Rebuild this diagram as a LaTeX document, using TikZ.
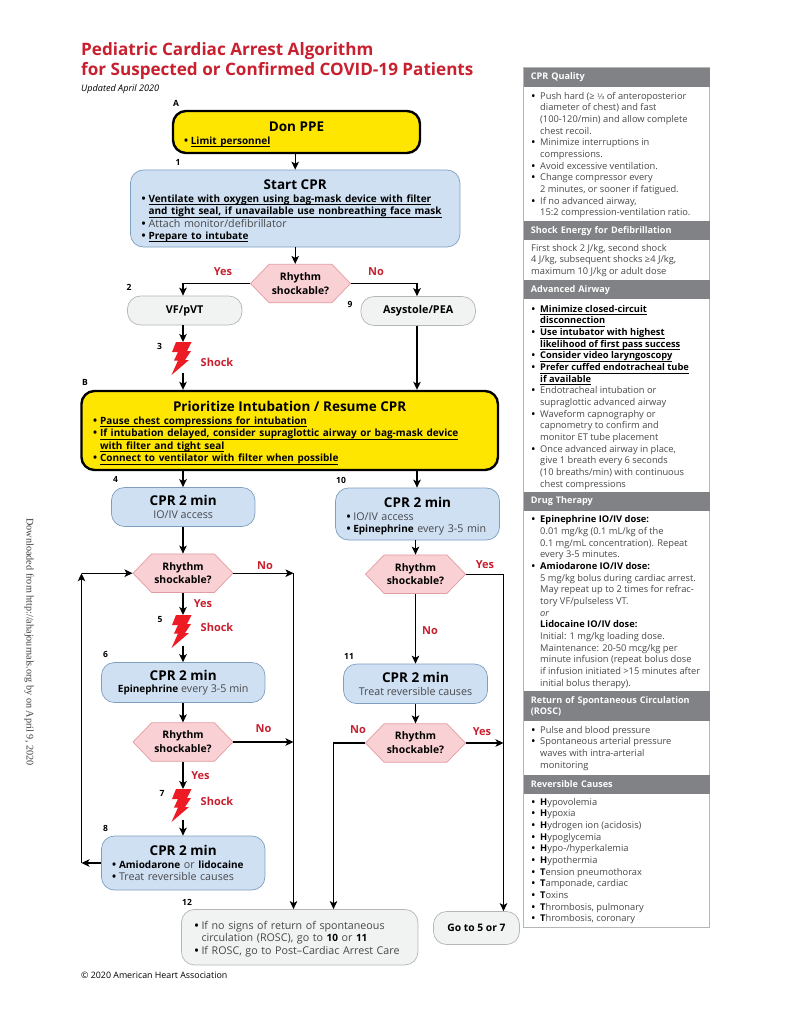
\documentclass[tikz,border=0pt]{standalone}
\usepackage{fontspec}
\setmainfont{Open Sans}
\newfontfamily\serifdl{Liberation Serif}
\newfontfamily\symfam{DejaVu Sans}
\usetikzlibrary{arrows.meta,positioning,shapes.symbols}
\definecolor{boxblue}{HTML}{CFE0F3}
\definecolor{edgeblue}{HTML}{7E9FC0}
\definecolor{boxyellow}{HTML}{FFE600}
\definecolor{boxpink}{HTML}{F9D0D3}
\definecolor{edgepink}{HTML}{E29CA3}
\definecolor{boxgrey}{HTML}{F1F2F2}
\definecolor{edgegrey}{HTML}{B4B6B7}
\definecolor{headgrey}{HTML}{808285}
\definecolor{titlered}{HTML}{C8202F}
\definecolor{boltred}{HTML}{ED1C24}
\definecolor{bodygrey}{HTML}{48484A}
\newcommand{\bl}{\makebox[\bw][l]{\textcolor{black}{\bfseries\textbullet}}}
\newcommand{\ind}{\hspace*{\bw}}
\newcommand{\bk}[1]{\textcolor{black}{\bsz\bfseries #1}}
\newcommand{\ub}[1]{\setbox0\hbox{\bk{#1}}\rlap{\textcolor{black}{\rule[-2.6pt]{\wd0}{0.6pt}}}\box0}
\newcommand{\ttl}[2][15]{\makebox[\linewidth][c]{\rule{0pt}{#1pt}\fontsize{13.5}{16}\selectfont\textcolor{black}{\bfseries #2}}}
\newcommand{\ctl}[1]{\fontsize{13.5}{16}\selectfont\textcolor{black}{\bfseries #1}}
\newcommand{\shockbolt}[3]{%
\path[fill=boltred] (#2,#3) ++(5,0) -- ++(15.5,0) -- ++(-4.5,9) -- ++(4,0) -- ++(-6,9) -- ++(4,0)
 -- ++(-17.5,15) -- ++(6.5,-14.5) -- ++(-4,0) -- ++(4,-8.5) -- ++(-6,0) -- cycle;
\coordinate (#1t) at (#2,#3);
\coordinate (#1b) at ([yshift=-30.5pt]#2,#3);}
\tikzset{
 main/.style={rounded corners=13pt,align=left,inner sep=0pt,text=bodygrey,
  font=\def\bw{6.8pt}\def\bsz{\fontsize{10}{12.4}\selectfont}\fontsize{10.7}{12.4}\selectfont},
 cprbox/.style={main,draw=edgeblue,fill=boxblue,line width=0.7pt},
 ppebox/.style={main,draw=black,fill=boxyellow,line width=2.4pt},
 endbox/.style={main,draw=edgegrey,fill=boxgrey,line width=0.7pt},
 rhythm/.style={shape=signal,signal to=east and west,signal pointer angle=92,draw=edgepink,fill=boxpink,
  line width=0.7pt,inner sep=0pt,minimum width=100pt,minimum height=38.5pt,align=center,
  font=\fontsize{10.4}{13.8}\selectfont\bfseries},
 flow/.style={-{Stealth[length=8pt,width=7.5pt,inset=2pt]},line width=1.2pt},
 numlbl/.style={font=\fontsize{8.5}{9}\selectfont\bfseries,inner sep=0pt},
 redlbl/.style={font=\fontsize{11}{10}\selectfont\bfseries,text=titlered,inner sep=0pt},
 sidehead/.style={fill=headgrey,anchor=north west,minimum width=185.5pt,inner sep=0pt,text=white,align=left,
  text width=172pt,inner xsep=7pt,font=\fontsize{9.1}{11.65}\selectfont\bfseries},
 sidebody/.style={anchor=north west,inner sep=0pt,align=left,text=bodygrey,
  font=\def\bw{8.5pt}\def\bsz{}\fontsize{9.3}{11.65}\selectfont},
 capbox/.style={font=\fontsize{10.8}{12}\selectfont\bfseries,text=black},
}
\begin{document}
\begin{tikzpicture}[x=1pt,y=-1pt]
\useasboundingbox[fill=white] (0,0) rectangle (791,1024);
\coordinate (lft) at (183,0);
\coordinate (mid) at (417,0);
% heading
\node[anchor=base west,inner sep=0pt,text=titlered,font=\fontsize{17.1}{20}\selectfont\bfseries] (title1) at (81,55.5) {Pediatric Cardiac Arrest Algorithm};
\node[anchor=base west,inner sep=0pt,text=titlered,font=\fontsize{17.1}{20}\selectfont\bfseries] (title2) at (81,75.5) {for Suspected or Confirmed COVID-19 Patients};
\node[anchor=base west,inner sep=0pt,font=\fontsize{9.1}{9}\selectfont\itshape] (updated) at (81,92) {Updated April 2020};
\node[rotate=-90,inner sep=0pt,text=black!75,font=\fontsize{10.2}{12}\selectfont\serifdl] (dl) at (29,642) {Downloaded from http://ahajournals.org by on April 9, 2020};
\node[anchor=base west,inner sep=0pt,font=\fontsize{8.85}{9}\selectfont] (copy) at (81,978) {© 2020 American Heart Association};
% boxes
\node[ppebox,minimum width=247pt,minimum height=42pt,text width=225pt] (ppe) at (296.5,132) {\ttl{Don PPE}\\\bl\ub{Limit personnel}};
\node[cprbox,minimum width=329.5pt,minimum height=77pt,text width=307pt] (startcpr) at (295.2,208.5) {\ttl{Start CPR}\\
\bl\ub{Ventilate with oxygen using bag-mask device with filter}\\
\ind\ub{and tight seal, if unavailable use nonbreathing face mask}\\
\bl Attach monitor/defibrillator\\
\bl\ub{Prepare to intubate}};
\node[rhythm] (r0) at (300.5,283.5) {Rhythm\\shockable?};
\node[endbox,minimum width=114.5pt,minimum height=29pt,capbox] (vf) at (184.7,310.5) {VF/pVT};
\node[endbox,minimum width=114.5pt,minimum height=29pt,capbox] (asy) at (418.2,311) {Asystole/PEA};
\node[ppebox,minimum width=416.5pt,minimum height=79pt,text width=393pt] (prio) at (289.7,430.5) {\ttl{Prioritize Intubation / Resume CPR}\\
\bl\ub{Pause chest compressions for intubation}\\
\bl\ub{If intubation delayed, consider supraglottic airway or bag-mask device}\\
\ind\ub{with filter and tight seal}\\
\bl\ub{Connect to ventilator with filter when possible}};
\node[cprbox,minimum width=143.5pt,minimum height=39pt,align=center] (cpra) at (183.2,507) {\ctl{CPR 2 min}\\IO/IV access};
\node[cprbox,minimum width=164pt,minimum height=52pt,text width=142pt] (cprb) at (417.5,514) {\ttl{CPR 2 min}\\\bl IO/IV access\\\bl\bk{Epinephrine} every 3-5 min};
\node[rhythm] (r1) at (183,573.2) {Rhythm\\shockable?};
\node[rhythm] (r2) at (415.5,574.2) {Rhythm\\shockable?};
\node[cprbox,minimum width=163.5pt,minimum height=40pt,align=center] (cprc) at (183.2,682.5) {\ctl{CPR 2 min}\\\bk{Epinephrine} every 3-5 min};
\node[cprbox,minimum width=144pt,minimum height=39.5pt,align=center] (cprd) at (415.5,683.8) {\ctl{CPR 2 min}\\Treat reversible causes};
\node[rhythm] (r3) at (183,742) {Rhythm\\shockable?};
\node[rhythm] (r4) at (415.5,743) {Rhythm\\shockable?};
\node[cprbox,minimum width=163.5pt,minimum height=54pt,text width=142pt] (cpre) at (183.2,863) {\ttl[9]{CPR 2 min}\\\bl\bk{Amiodarone} or \bk{lidocaine}\\\bl Treat reversible causes};
\node[endbox,minimum width=236.5pt,minimum height=55.5pt,text width=210pt] (rosc) at (299.7,937.2) {\rule{0pt}{12pt}\bl If no signs of return of spontaneous\\\ind circulation (ROSC), go to \bk{10} or \bk{11}\\\bl If ROSC, go to Post–Cardiac Arrest Care};
\node[endbox,minimum width=86pt,minimum height=33pt,capbox,font=\fontsize{10.3}{12}\selectfont\bfseries] (goto) at (476.5,928) {Go to 5 or 7};
% shocks
\shockbolt{b3}{171}{342}
\shockbolt{b5}{171}{615}
\shockbolt{b7}{171}{789}
\node[redlbl] (s3) at (217,362) {Shock};
\node[redlbl] (s5) at (217,627) {Shock};
\node[redlbl] (s7) at (217,801) {Shock};
% labels
\node[numlbl] (la) at (176,103) {A};
\node[numlbl] (l1) at (178,162) {1};
\node[numlbl] (l2) at (129,287) {2};
\node[numlbl] (l9) at (350,304) {9};
\node[numlbl] (l3) at (159.5,346.5) {3};
\node[numlbl] (lb) at (85,382.5) {B};
\node[numlbl] (l4) at (115.5,479) {4};
\node[numlbl] (l10) at (341,480) {10};
\node[numlbl] (l5) at (160,619.5) {5};
\node[numlbl] (l6) at (105.5,654.5) {6};
\node[numlbl] (l11) at (349,656) {11};
\node[numlbl] (l7) at (162,793) {7};
\node[numlbl] (l8) at (105.5,828.5) {8};
\node[numlbl] (l12) at (187,902) {12};
\node[redlbl] (y0) at (223,272) {Yes};
\node[redlbl] (n0) at (376,272) {No};
\node[redlbl] (n1) at (265,565.5) {No};
\node[redlbl] (y1) at (203,604) {Yes};
\node[redlbl] (y2) at (485,564.5) {Yes};
\node[redlbl] (n2) at (430,631) {No};
\node[redlbl] (n3) at (263.5,729) {No};
\node[redlbl] (y3) at (200.5,776) {Yes};
\node[redlbl] (n4) at (358,730) {No};
\node[redlbl] (y4) at (482,732) {Yes};
% connectors
\coordinate (rdown) at (293.5,0);
\coordinate (rdown2) at (333.5,0);
\coordinate (rdown3) at (503.5,0);
\coordinate (loopx) at (81.5,0);
\draw[flow] (ppe.south -| startcpr.north) -- (startcpr.north);
\draw[flow] (startcpr.south) -- (startcpr.south |- r0.north);
\draw[flow] (r0.west) -| (lft |- vf.north);
\draw[flow] (r0.east) -| (mid |- asy.north);
\draw[flow] (lft |- vf.south) -- (lft |- b3t);
\draw[flow] (lft |- b3b) -- (lft |- prio.north);
\draw[flow] (mid |- asy.south) -- (mid |- prio.north);
\draw[flow] (lft |- prio.south) -- (lft |- cpra.north);
\draw[flow] (mid |- prio.south) -- (mid |- cprb.north);
\draw[flow] (lft |- cpra.south) -- (r1.north);
\draw[flow] (r2 |- cprb.south) -- (r2.north);
\draw[flow] (r1.south) -- (lft |- b5t);
\draw[flow] (lft |- b5b) -- (lft |- cprc.north);
\draw[flow] (lft |- cprc.south) -- (r3.north);
\draw[flow] (r3.south) -- (lft |- b7t);
\draw[flow] (lft |- b7b) -- (lft |- cpre.north);
\draw[flow] (r2.south) -- (cprd.north);
\draw[flow] (cprd.south) -- (r4.north);
\draw[flow] (r1.east) -- (rdown |- r1);
\draw[flow] (r3.east) -- (rdown |- r3);
\draw[flow] (rdown |- r1) -- (rdown |- rosc.north);
\draw[flow] (r2.east) -| (rdown3 |- goto.north);
\draw[flow] (r4.east) -- (rdown3 |- r4);
\draw[flow] (r4.west) -| (rdown2 |- rosc.north);
\draw[flow] (cpre.west) -- (loopx |- cpre);
\draw[flow] (loopx |- cpre) -- (loopx |- r1);
\draw[flow] (loopx |- r1) -- (r1.west);
% side panel
\node[draw=edgegrey,line width=0.8pt,minimum width=185.5pt,minimum height=859.5pt,inner sep=0pt] (panel) at (616.5,497.5) {};
\node[sidehead,minimum height=19pt] (hq) at (523.7,67.5) {CPR Quality};
\node[sidebody] (bq) at (531.5,92) {\bl Push hard (≥ {\symfam\fontsize{7.5}{9}\selectfont ⅓} of anteroposterior\\\ind diameter of chest) and fast\\\ind (100-120/min) and allow complete\\\ind chest recoil.\\\bl Minimize interruptions in\\\ind compressions.\\\bl Avoid excessive ventilation.\\\bl Change compressor every\\\ind 2 minutes, or sooner if fatigued.\\\bl If no advanced airway,\\\ind 15:2 compression-ventilation ratio.};
\node[sidehead,minimum height=19pt] (he) at (523.7,221) {Shock Energy for Defibrillation};
\node[sidebody] (be) at (531,244) {First shock 2 J/kg, second shock\\4 J/kg, subsequent shocks ≥4 J/kg,\\maximum 10 J/kg or adult dose};
\node[sidehead,minimum height=19pt] (ha) at (523.7,280) {Advanced Airway};
\node[sidebody] (ba) at (531.5,305) {\bl\ub{Minimize closed-circuit}\\\ind\ub{disconnection}\\\bl\ub{Use intubator with highest}\\\ind\ub{likelihood of first pass success}\\\bl\ub{Consider video laryngoscopy}\\\bl\ub{Prefer cuffed endotracheal tube}\\\ind\ub{if available}\\\bl Endotracheal intubation or\\\ind supraglottic advanced airway\\\bl Waveform capnography or\\\ind capnometry to confirm and\\\ind monitor ET tube placement\\\bl Once advanced airway in place,\\\ind give 1 breath every 6 seconds\\\ind (10 breaths/min) with continuous\\\ind chest compressions};
\node[sidehead,minimum height=19pt] (hd) at (523.7,491.7) {Drug Therapy};
\node[sidebody] (bd) at (531.5,515.7) {\bl\bk{Epinephrine IO/IV dose:}\\\ind 0.01 mg/kg (0.1 mL/kg of the\\\ind 0.1 mg/mL concentration). Repeat\\\ind every 3-5 minutes.\\\bl\bk{Amiodarone IO/IV dose:}\\\ind 5 mg/kg bolus during cardiac arrest.\\\ind May repeat up to 2 times for refrac-\\\ind tory VF/pulseless VT.\\\ind\textit{or}\\\ind\bk{Lidocaine IO/IV dose:}\\\ind Initial: 1 mg/kg loading dose.\\\ind Maintenance: 20-50 mcg/kg per\\\ind minute infusion (repeat bolus dose\\\ind if infusion initiated >15 minutes after\\\ind initial bolus therapy).};
\node[sidehead,minimum height=30pt] (hr) at (523.7,691) {Return of Spontaneous Circulation\\(ROSC)};
\node[sidebody] (br) at (531.5,726) {\bl Pulse and blood pressure\\\bl Spontaneous arterial pressure\\\ind waves with intra-arterial\\\ind monitoring};
\node[sidehead,minimum height=19pt] (hc) at (523.7,774.3) {Reversible Causes};
\node[sidebody] (bc) at (531.5,798) {\bl\bk{H}ypovolemia\\\bl\bk{H}ypoxia\\\bl\bk{H}ydrogen ion (acidosis)\\\bl\bk{H}ypoglycemia\\\bl\bk{H}ypo-/hyperkalemia\\\bl\bk{H}ypothermia\\\bl\bk{T}ension pneumothorax\\\bl\bk{T}amponade, cardiac\\\bl\bk{T}oxins\\\bl\bk{T}hrombosis, pulmonary\\\bl\bk{T}hrombosis, coronary};
\end{tikzpicture}
\end{document}
